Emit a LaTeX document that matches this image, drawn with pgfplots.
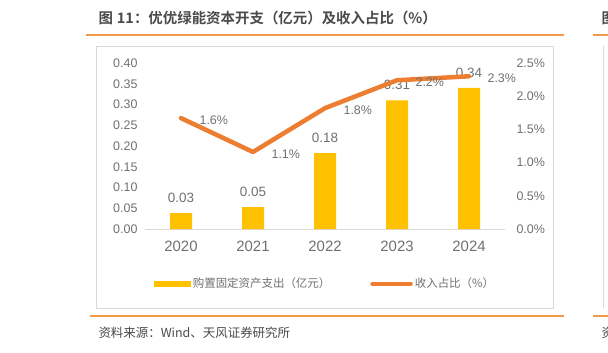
\documentclass[border=0pt]{standalone}
\usepackage{pgfplots}
\pgfplotsset{compat=1.18}
\usepackage{fontspec}
\setmainfont{Liberation Sans}
\newfontfamily\cjk{Noto Sans CJK SC}
\newfontfamily\cjkb{Noto Sans CJK SC Bold}
\definecolor{barY}{HTML}{FFC000}
\definecolor{lineO}{HTML}{ED7D31}
\definecolor{ruleO}{HTML}{F29A4A}
\definecolor{txt}{HTML}{707070}
\definecolor{dtxt}{HTML}{4A4A4A}
\definecolor{boxg}{HTML}{D9D9D9}
\begin{document}
\begin{tikzpicture}[x=1bp,y=1bp]
\useasboundingbox (0,0) rectangle (608,352);
% title and rules
\node[anchor=west,text=dtxt,font=\cjkb\fontsize{14.5}{16}\selectfont] at (95,334) {图\hspace{4bp}11：优优绿能资本开支（亿元）及收入占比（\%）};
\node[anchor=west,text=dtxt,font=\cjkb\fontsize{14.5}{16}\selectfont] at (598,334) {图};
\draw[ruleO,line width=1.2bp] (86,317) -- (564,317);
\draw[ruleO,line width=1.2bp] (593,317) -- (620,317);
\draw[boxg,line width=0.8bp] (96,44) rectangle (553,306);
\draw[boxg,line width=0.8bp] (603,44) -- (603,306);
\draw[ruleO,line width=1.2bp] (90,36) -- (564,36);
\draw[ruleO,line width=1.2bp] (593,36) -- (620,36);
\node[anchor=west,text=dtxt,font=\cjk\fontsize{12.5}{14}\selectfont] at (95,19) {资料来源：Wind、天风证券研究所};
\node[anchor=west,text=dtxt,font=\cjk\fontsize{12.5}{14}\selectfont] at (598,19) {资};
% left axis with bars
\begin{axis}[
  at={(145bp,123bp)}, anchor=south west,
  scale only axis, width=360bp, height=166bp,
  xmin=-0.5, xmax=4.5, ymin=0, ymax=0.4,
  xtick={0,1,2,3,4}, xticklabels={2020,2021,2022,2023,2024},
  ytick={0,0.05,0.1,0.15,0.2,0.25,0.3,0.35,0.4},
  yticklabel style={/pgf/number format/fixed,/pgf/number format/fixed zerofill,/pgf/number format/precision=2},
  /pgf/number format/assume math mode=true,
  axis x line*=bottom, axis y line*=left,
  y axis line style={draw=none},
  x axis line style={draw=boxg,line width=1bp},
  major tick length=0pt,
  tick label style={text=txt},
  yticklabel style={font=\fontsize{12.5}{14}\selectfont, xshift=-4bp},
  xticklabel style={font=\fontsize{15}{17}\selectfont, yshift=-9bp},
  clip=false,
  legend style={at={(0.5,-0.33)},anchor=center,draw=none,fill=none,
    font=\cjk\fontsize{11.5}{14}\selectfont,text=txt,
    /tikz/every even column/.append style={column sep=38bp}},
  legend columns=2,
]
\addplot[ybar, bar width=22bp, fill=barY, draw=none,
  nodes near coords, point meta=explicit symbolic,
  nodes near coords style={text=txt,font=\fontsize{13.5}{15}\selectfont,yshift=7bp},
  legend image code/.code={\fill[barY] (0bp,-3bp) rectangle (37bp,3bp);}]
  coordinates {(0,0.038)[0.03] (1,0.053)[0.05] (2,0.183)[0.18] (3,0.31)[0.31] (4,0.34)[0.34]};
\addlegendentry{购置固定资产支出（亿元）}
\addlegendimage{lineO, line width=4.5bp, line cap=round, legend image code/.code={\draw[lineO,line width=4.5bp,line cap=round] (2bp,0) -- (40bp,0);}}
\addlegendentry{收入占比（\%）}
\end{axis}
% right axis with line
\begin{axis}[
  at={(145bp,123bp)}, anchor=south west,
  scale only axis, width=360bp, height=166bp,
  xmin=-0.5, xmax=4.5, ymin=0, ymax=2.5,
  xtick=\empty,
  ytick={0,0.5,1,1.5,2,2.5},
  yticklabel={\pgfmathprintnumber[fixed,fixed zerofill,precision=1]{\tick}\%},
  /pgf/number format/assume math mode=true,
  axis x line=none, axis y line*=right,
  y axis line style={draw=none},
  major tick length=0pt,
  tick label style={text=txt},
  yticklabel style={font=\fontsize{12.5}{14}\selectfont, xshift=8bp},
  clip=false,
]
\addplot[lineO, line width=4.5bp, line join=round, line cap=round,
  nodes near coords, point meta=explicit symbolic,
  nodes near coords style={text=txt,font=\fontsize{12.5}{14}\selectfont,anchor=west,xshift=13bp,yshift=-2bp}]
  coordinates {(0,1.67)[1.6\%] (1,1.16)[1.1\%] (2,1.82)[1.8\%] (3,2.24)[2.2\%] (4,2.3)[2.3\%]};
\end{axis}
\end{tikzpicture}
\end{document}
